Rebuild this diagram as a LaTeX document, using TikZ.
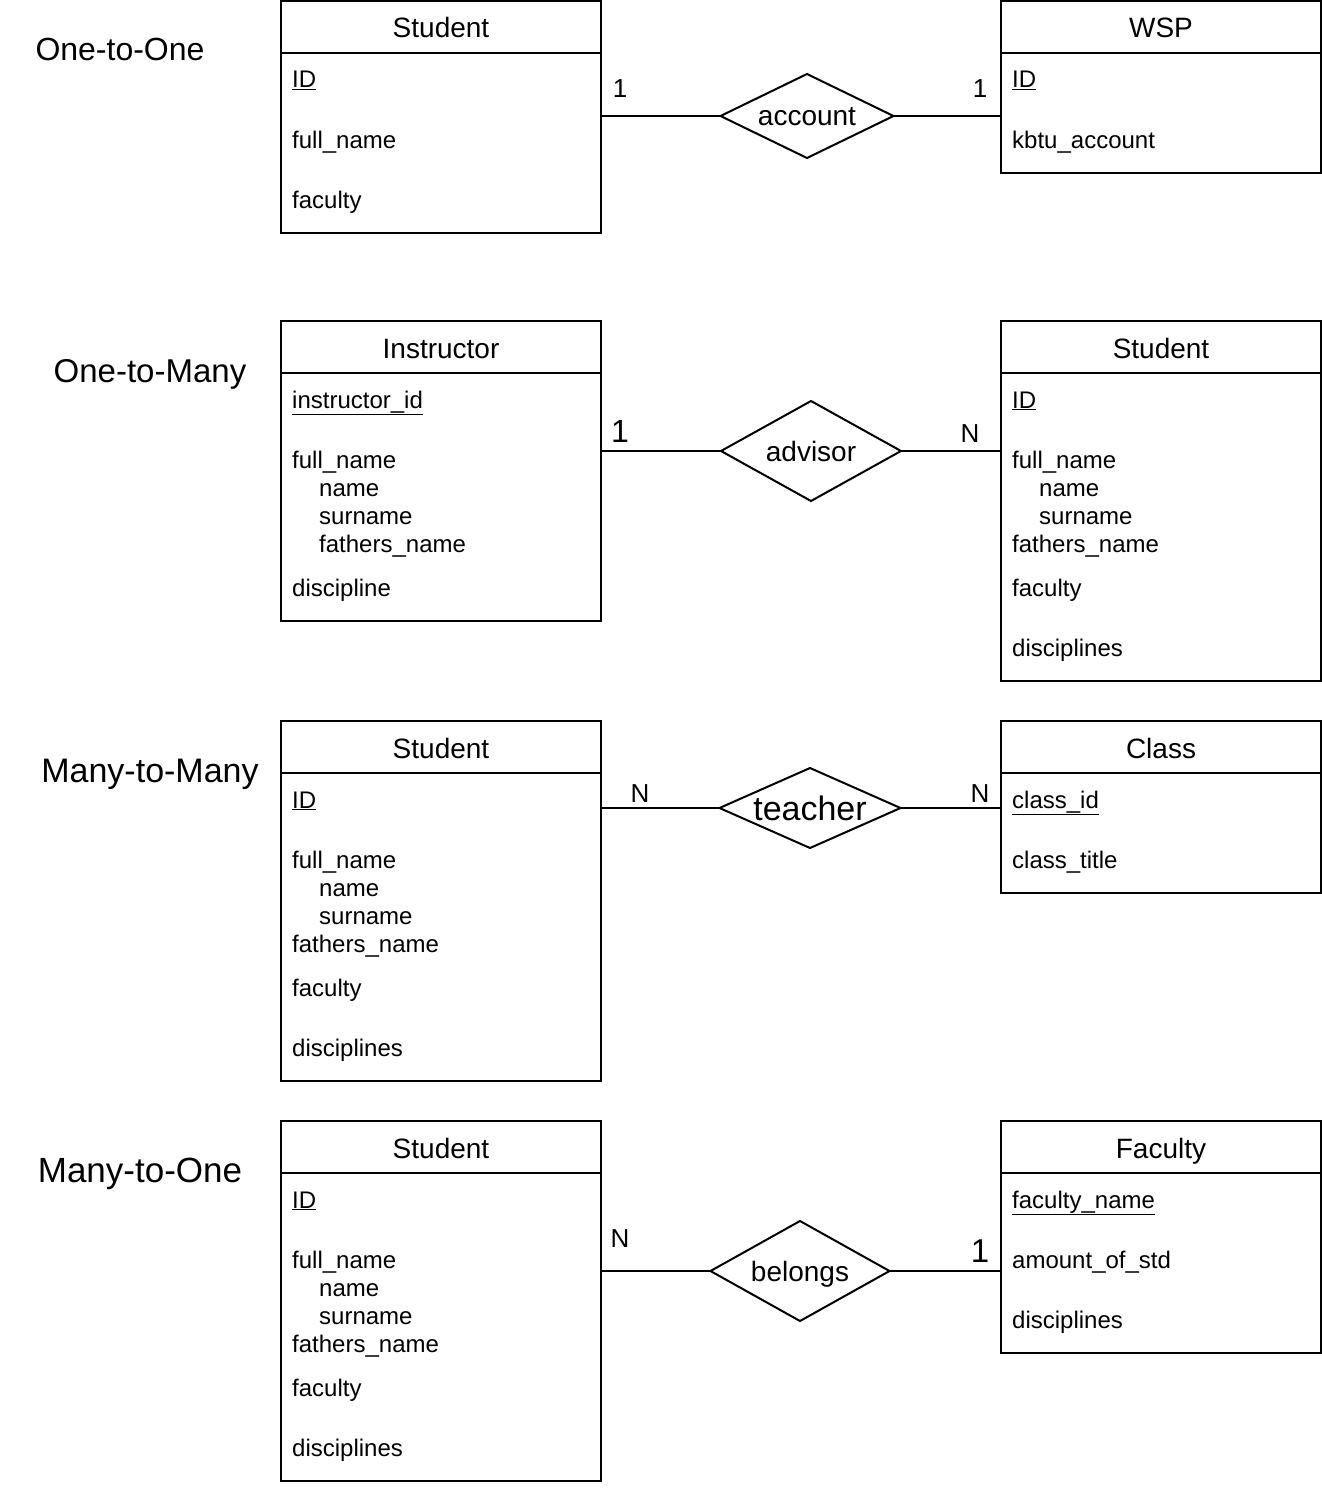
\documentclass[tikz,border=0pt]{standalone}
\usepackage{fontspec}
\setmainfont{Liberation Sans}
\usetikzlibrary{
  shapes.geometric
}
\newcommand{\attrsize}{\fontsize{24}{28}\selectfont}
\newcommand{\headsize}{\fontsize{28}{32}\selectfont}
\newcommand{\cardsize}{\fontsize{26}{30}\selectfont}
\newcommand{\kindsize}{\fontsize{33}{38}\selectfont}
\newcommand{\key}[1]{\underline{#1}}

\tikzset{
  ent/.style={draw, line width=2pt, anchor=north west, minimum width=320pt,
    inner sep=0pt, outer sep=0pt},
  head/.style={anchor=base, font=\headsize, inner sep=0pt},
  attr/.style={anchor=base west, font=\attrsize, inner sep=0pt},
  rel/.style={draw, line width=2pt, shape=diamond, aspect=2.2, inner sep=0pt,
    outer sep=0pt, font=\headsize, text depth=0pt},
  card/.style={anchor=base, font=\cardsize, inner sep=0pt},
  kind/.style={anchor=base, font=\kindsize, inner sep=0pt},
  link/.style={line width=2pt}
}

\begin{document}
\begin{tikzpicture}[x=1pt,y=-1pt]
  \def\Xa{281};
  \def\Xb{1001};
  \def\Ia{292};
  \def\Ib{1012};
  \def\Ja{319};
  \def\Jb{1039};
  \def\Ha{441};
  \def\Hb{1161};
  \useasboundingbox (0,0) rectangle (1322,1488);

        % one-to-one
        \node[kind, font=\fontsize{32}{38}\selectfont] (k1) at (120,61) {One-to-One};
        \node[ent, minimum height=232pt] (stu1) at (\Xa,1) {};
        \draw[link] (stu1.north west) ++(0,52) -- ++(320,0);
        \node[head] (stu1h) at (\Ha,38) {Student};
        \node[attr] (stu1a) at (\Ia,88) {\key{ID}};
        \node[attr] (stu1b) at (\Ia,148) {full\_name};
        \node[attr] (stu1c) at (\Ia,208) {faculty};
        \node[ent, minimum height=172pt] (wsp) at (\Xb,1) {};
        \draw[link] (wsp.north west) ++(0,52) -- ++(320,0);
        \node[head] (wsph) at (\Hb,38) {WSP};
        \node[attr] (wspa) at (\Ib,88) {\key{ID}};
        \node[attr] (wspb) at (\Ib,148) {kbtu\_account};
        \node[rel, minimum width=173pt, minimum height=84pt] (account) at (807,116) {account};
	\draw[link] (account.west -| stu1.east) -- (account.west);
	\draw[link] (account.east) -- (account.east -| wsp.west);
        \node[card] (c1a) at (620,97) {1};
        \node[card] (c1b) at (980,97) {1};

        % one-to-many
        \node[kind] (k2) at (150,382) {One-to-Many};
        \node[ent, minimum height=300pt] (ins) at (\Xa,321) {};
        \draw[link] (ins.north west) ++(0,52) -- ++(320,0);
        \node[head] (insh) at (\Ha,358) {Instructor};
        \node[attr] (insa) at (\Ia,408) {\key{instructor\_id}};
        \node[attr] (insb) at (\Ia,468) {full\_name};
        \node[attr] (insc) at (\Ja,496) {name};
        \node[attr] (insd) at (\Ja,524) {surname};
        \node[attr] (inse) at (\Ja,552) {fathers\_name};
        \node[attr] (insf) at (\Ia,596) {discipline};
        \node[ent, minimum height=360pt] (stu2) at (\Xb,321) {};
        \draw[link] (stu2.north west) ++(0,52) -- ++(320,0);
        \node[head] (stu2h) at (\Hb,358) {Student};
        \node[attr] (stu2a) at (\Ib,408) {\key{ID}};
        \node[attr] (stu2b) at (\Ib,468) {full\_name};
        \node[attr] (stu2c) at (\Jb,496) {name};
        \node[attr] (stu2d) at (\Jb,524) {surname};
        \node[attr] (stu2e) at (\Ib,552) {fathers\_name};
        \node[attr] (stu2f) at (\Ib,596) {faculty};
        \node[attr] (stu2g) at (\Ib,656) {disciplines};
        \node[rel, minimum width=180pt, minimum height=100pt] (advisor) at (811,451) {advisor};
	\draw[link] (advisor.west -| ins.east) -- (advisor.west);
	\draw[link] (advisor.east) -- (advisor.east -| stu2.west);
        \node[card, font=\fontsize{32}{38}\selectfont] (c2a) at (620,442) {1};
        \node[card] (c2b) at (970,442) {N};

        % many-to-many
        \node[kind, font=\fontsize{34}{40}\selectfont] (k3) at (150,782) {Many-to-Many};
        \node[ent, minimum height=360pt] (stu3) at (\Xa,721) {};
        \draw[link] (stu3.north west) ++(0,52) -- ++(320,0);
        \node[head] (stu3h) at (\Ha,758) {Student};
        \node[attr] (stu3a) at (\Ia,808) {\key{ID}};
        \node[attr] (stu3b) at (\Ia,868) {full\_name};
        \node[attr] (stu3c) at (\Ja,896) {name};
        \node[attr] (stu3d) at (\Ja,924) {surname};
        \node[attr] (stu3e) at (\Ia,952) {fathers\_name};
        \node[attr] (stu3f) at (\Ia,996) {faculty};
        \node[attr] (stu3g) at (\Ia,1056) {disciplines};
        \node[ent, minimum height=172pt] (cls) at (\Xb,721) {};
        \draw[link] (cls.north west) ++(0,52) -- ++(320,0);
        \node[head] (clsh) at (\Hb,758) {Class};
        \node[attr] (clsa) at (\Ib,808) {\key{class\_id}};
        \node[attr] (clsb) at (\Ib,868) {class\_title};
        \node[rel, minimum width=181pt, minimum height=80pt,
          font=\fontsize{34}{40}\selectfont] (teacher) at (810,808) {teacher};
	\draw[link] (teacher.west -| stu3.east) -- (teacher.west);
	\draw[link] (teacher.east) -- (teacher.east -| cls.west);
        \node[card] (c3a) at (640,802) {N};
        \node[card] (c3b) at (980,802) {N};

        % many-to-one
        \node[kind, font=\fontsize{35}{40}\selectfont] (k4) at (140,1182) {Many-to-One};
        \node[ent, minimum height=360pt] (stu4) at (\Xa,1121) {};
        \draw[link] (stu4.north west) ++(0,52) -- ++(320,0);
        \node[head] (stu4h) at (\Ha,1158) {Student};
        \node[attr] (stu4a) at (\Ia,1208) {\key{ID}};
        \node[attr] (stu4b) at (\Ia,1268) {full\_name};
        \node[attr] (stu4c) at (\Ja,1296) {name};
        \node[attr] (stu4d) at (\Ja,1324) {surname};
        \node[attr] (stu4e) at (\Ia,1352) {fathers\_name};
        \node[attr] (stu4f) at (\Ia,1396) {faculty};
        \node[attr] (stu4g) at (\Ia,1456) {disciplines};
        \node[ent, minimum height=232pt] (fac) at (\Xb,1121) {};
        \draw[link] (fac.north west) ++(0,52) -- ++(320,0);
        \node[head] (fach) at (\Hb,1158) {Faculty};
        \node[attr] (faca) at (\Ib,1208) {\key{faculty\_name}};
        \node[attr] (facb) at (\Ib,1268) {amount\_of\_std};
        \node[attr] (facc) at (\Ib,1328) {disciplines};
        \node[rel, minimum width=179pt, minimum height=100pt] (belongs) at (800,1271) {belongs};
	\draw[link] (belongs.west -| stu4.east) -- (belongs.west);
	\draw[link] (belongs.east) -- (belongs.east -| fac.west);
        \node[card] (c4a) at (620,1247) {N};
        \node[card, font=\fontsize{33}{38}\selectfont] (c4b) at (980,1262) {1};
\end{tikzpicture}
\end{document}
